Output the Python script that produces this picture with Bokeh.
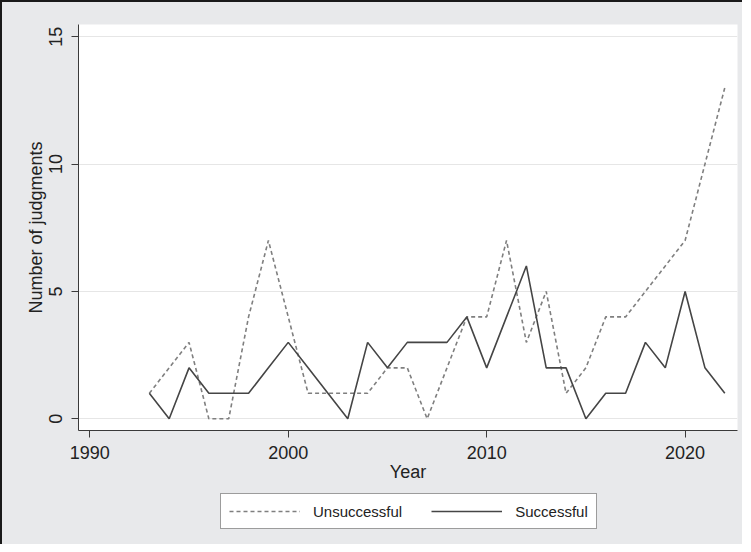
from bokeh.plotting import figure
from bokeh.models import Range1d, FixedTicker, Legend, LegendItem
from bokeh.layouts import column
from bokeh.embed import file_html
from bokeh.resources import INLINE

years = list(range(1993, 2023))
unsuccessful = [1, 2, 3, 0, 0, 4, 7, 4, 1, 1, 1, 1, 2, 2, 0, 2, 4, 4, 7, 3,
                5, 1, 2, 4, 4, 5, 6, 7, 10, 13]
successful = [1, 0, 2, 1, 1, 1, 2, 3, 2, 1, 0, 3, 2, 3, 3, 3, 4, 2, 4, 6,
              2, 2, 0, 1, 1, 3, 2, 5, 2, 1]
x_ticks = [1990, 2000, 2010, 2020]
y_ticks = [0, 5, 10, 15]
series_labels = ["Unsuccessful", "Successful"]

FONT = "Liberation Sans"
BG = "#e8e9eb"
U_STYLE = dict(line_color="#7f7f7f", line_width=1.6, line_dash="4 3")
S_STYLE = dict(line_color="#454545", line_width=1.6)

p = figure(width=740, height=485, output_backend="svg", toolbar_location=None,
           x_range=Range1d(1989.43, 2022.64), y_range=Range1d(-0.46, 15.48),
           min_border_left=76, min_border_right=5, min_border_top=22,
           min_border_bottom=57)
p.background_fill_color = "white"
p.border_fill_color = BG
p.outline_line_color = None

p.line(years, unsuccessful, **U_STYLE)
p.line(years, successful, **S_STYLE)

p.xgrid.grid_line_color = None
p.ygrid.grid_line_color = "#e6e6e6"
p.ygrid.grid_line_width = 1

p.xaxis.ticker = FixedTicker(ticks=x_ticks)
p.yaxis.ticker = FixedTicker(ticks=y_ticks)
for ax in (p.xaxis[0], p.yaxis[0]):
    ax.axis_line_color = "#3a3a3a"
    ax.major_tick_line_color = "#3a3a3a"
    ax.major_tick_out = 7
    ax.major_tick_in = 0
    ax.minor_tick_line_color = None
    ax.major_label_text_font = FONT
    ax.major_label_text_font_size = "18px"
    ax.major_label_text_color = "#222222"
    ax.axis_label_text_font = FONT
    ax.axis_label_text_font_size = "18px"
    ax.axis_label_text_font_style = "normal"
    ax.axis_label_text_color = "#222222"

p.xaxis.axis_label = "Year"
p.xaxis.major_label_standoff = 8
p.xaxis.axis_label_standoff = 0
p.yaxis.axis_label = "Number of judgments"
p.yaxis.major_label_orientation = "vertical"
p.yaxis.major_label_standoff = 9
p.yaxis.axis_label_standoff = 1

# legend strip below the plot (its frame is aligned with the main frame)
p2 = figure(width=740, height=57, output_backend="svg", toolbar_location=None,
            x_axis_type=None, y_axis_type=None, min_border=0,
            x_range=Range1d(0, 1), y_range=Range1d(0, 1))
p2.outline_line_color = None
p2.background_fill_color = BG
p2.border_fill_color = BG
# same series, drawn outside this strip's visible range; used only for legend keys
lu = p2.line(years, unsuccessful, **U_STYLE)
ls = p2.line(years, successful, **S_STYLE)

legend = Legend(items=[LegendItem(label=series_labels[0], renderers=[lu]),
                       LegendItem(label=series_labels[1], renderers=[ls])],
                orientation="horizontal", location=(142, 15),
                label_text_font=FONT, label_text_font_size="15px",
                label_text_color="#222222",
                glyph_width=71, glyph_height=18, spacing=29, label_standoff=13,
                padding=8, margin=0,
                border_line_color="#3a3a3a", border_line_width=1,
                background_fill_color="white", background_fill_alpha=1.0)
p2.add_layout(legend, "center")

layout = column(p, p2, spacing=0)
layout.styles = {"border-top": "2px solid #1a1a1a", "border-left": "2px solid #1a1a1a",
                 "background-color": BG}

open("out.html", "w").write(file_html(layout, INLINE))
